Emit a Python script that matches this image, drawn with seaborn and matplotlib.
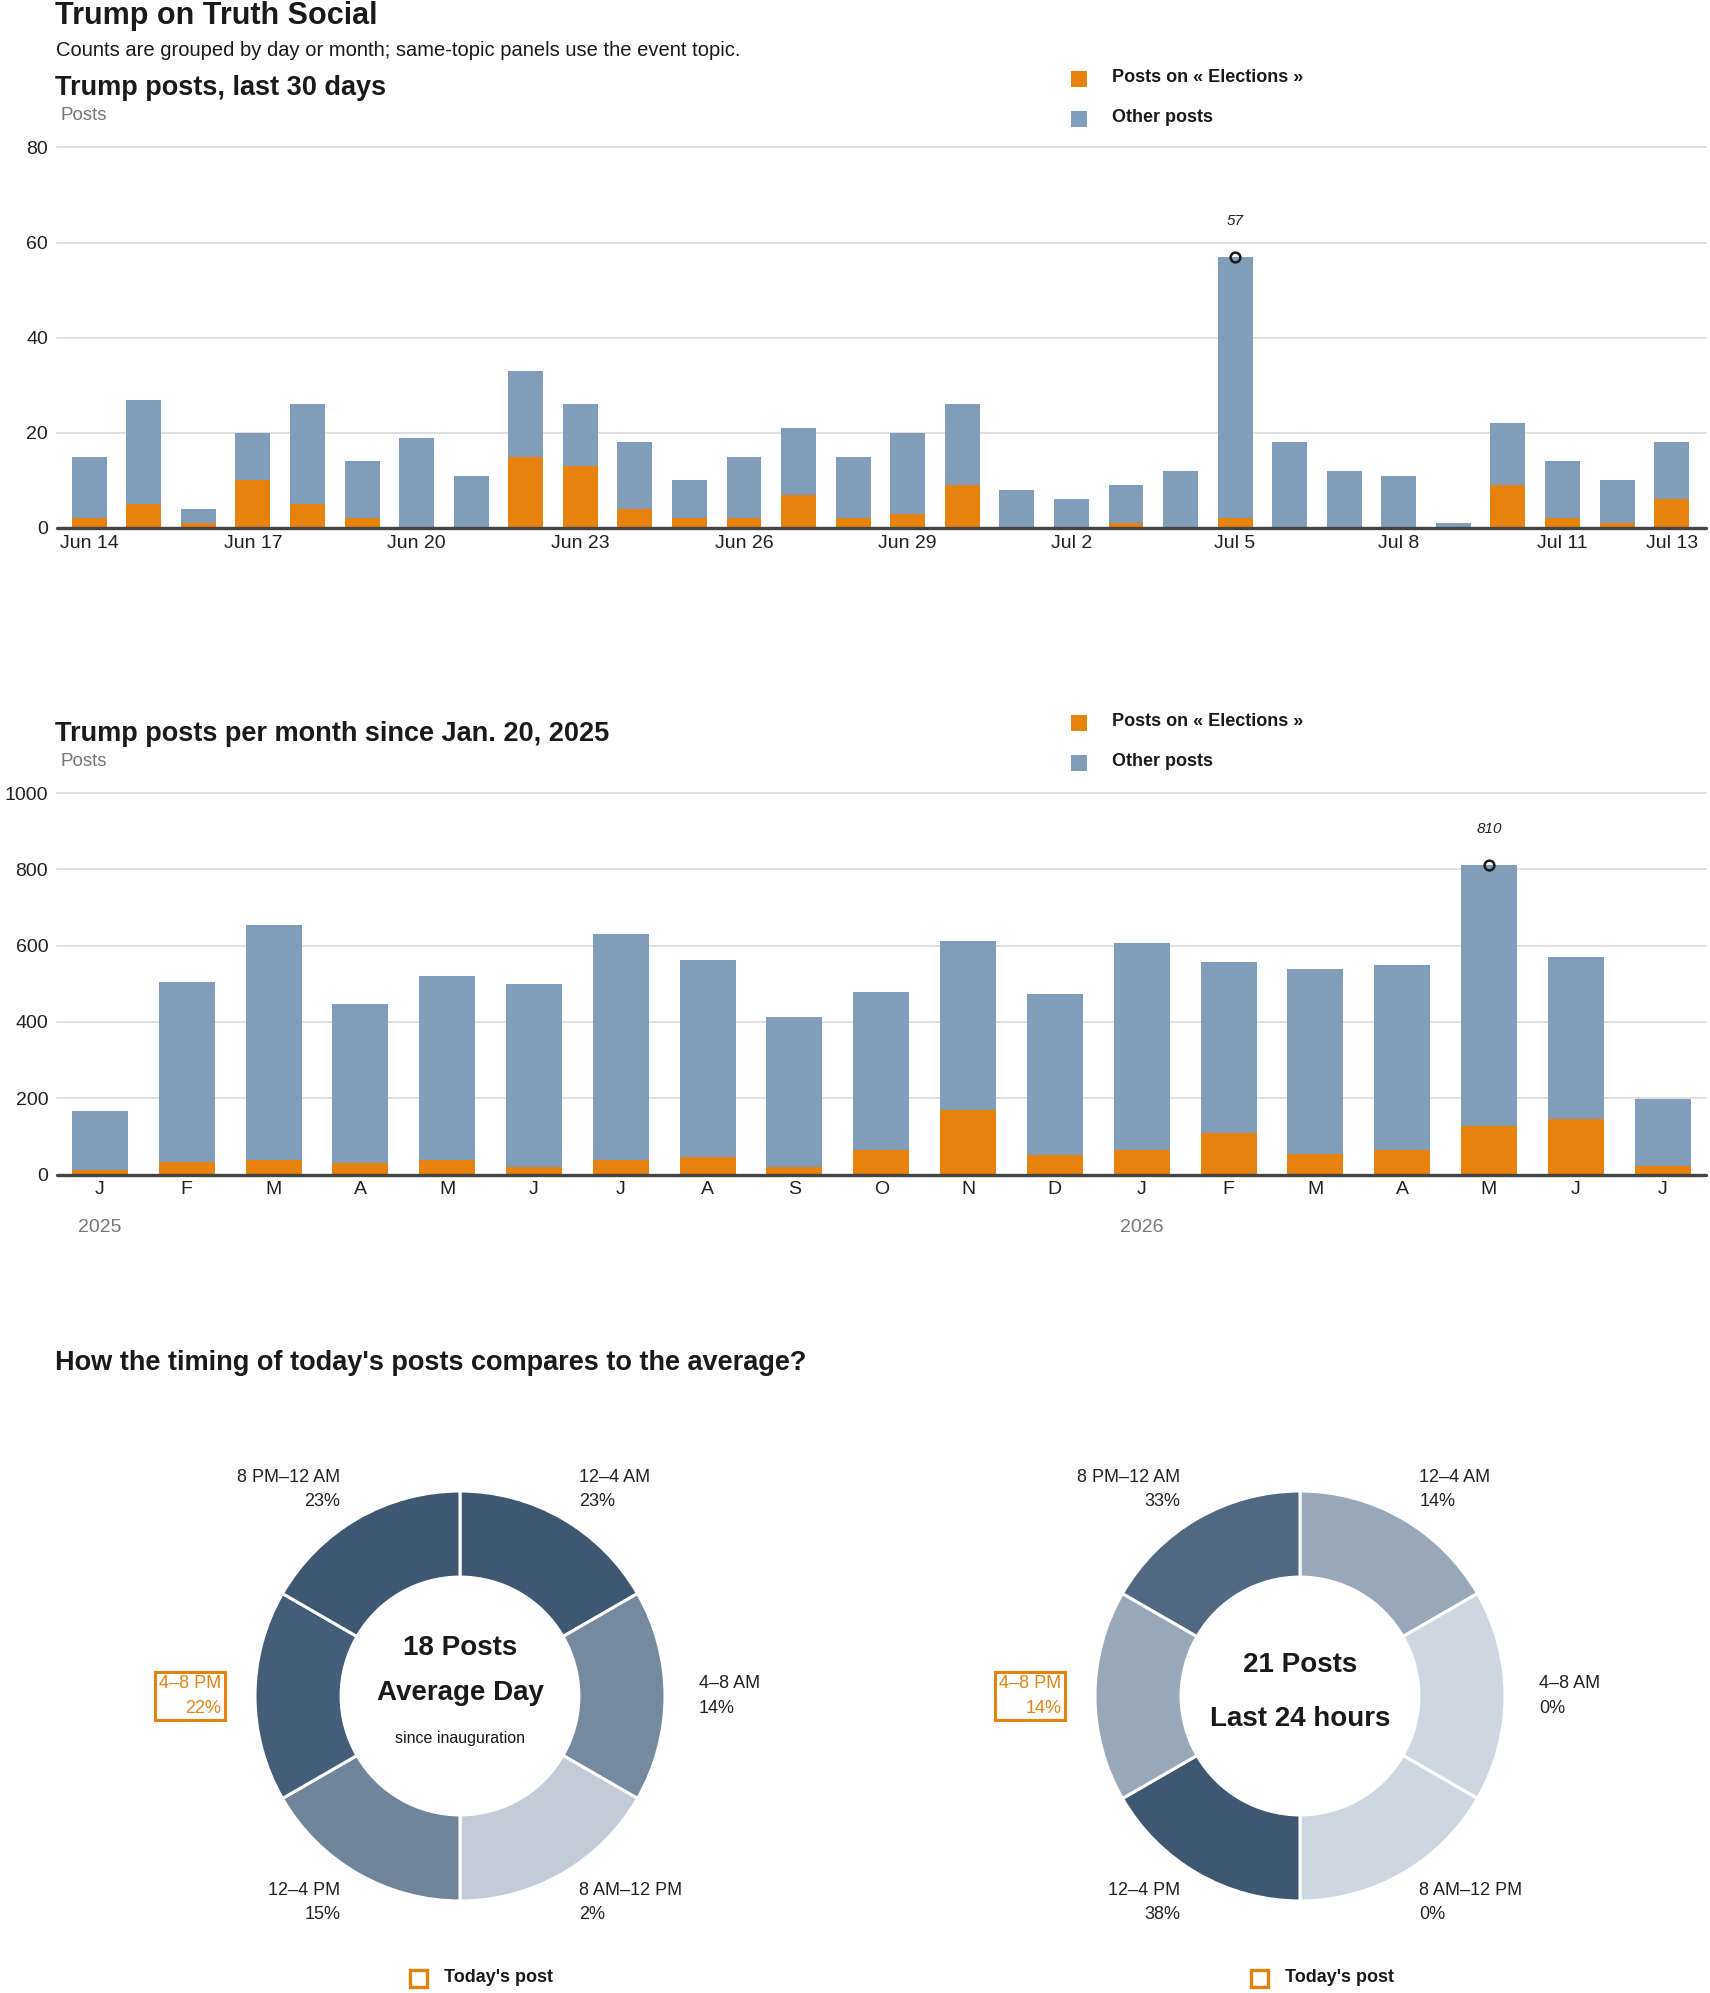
import numpy as np
import pandas as pd
import matplotlib
matplotlib.use("Agg")
import matplotlib.pyplot as plt
from matplotlib.patches import Rectangle
from matplotlib.colors import LinearSegmentedColormap
import seaborn as sns

# ---------------------------------------------------------------
# Data
# ---------------------------------------------------------------
day_labels = [
    "Jun 14", "Jun 15", "Jun 16", "Jun 17", "Jun 18", "Jun 19", "Jun 20", "Jun 21",
    "Jun 22", "Jun 23", "Jun 24", "Jun 25", "Jun 26", "Jun 27", "Jun 28", "Jun 29",
    "Jun 30", "Jul 1", "Jul 2", "Jul 3", "Jul 4", "Jul 5", "Jul 6", "Jul 7",
    "Jul 8", "Jul 9", "Jul 10", "Jul 11", "Jul 12", "Jul 13",
]
day_total = [15, 27, 4, 20, 26, 14, 19, 11, 33, 26, 18, 10, 15, 21, 15,
             20, 26, 8, 6, 9, 12, 57, 18, 12, 11, 1, 22, 14, 10, 18]
day_elections = [2, 5, 1, 10, 5, 2, 0, 0, 15, 13, 4, 2, 2, 7, 2,
                 3, 9, 0, 0, 1, 0, 2, 0, 0, 0, 0, 9, 2, 1, 6]
day_ticks = ["Jun 14", "Jun 17", "Jun 20", "Jun 23", "Jun 26", "Jun 29",
             "Jul 2", "Jul 5", "Jul 8", "Jul 11", "Jul 13"]

month_keys = ["2025-01", "2025-02", "2025-03", "2025-04", "2025-05", "2025-06",
              "2025-07", "2025-08", "2025-09", "2025-10", "2025-11", "2025-12",
              "2026-01", "2026-02", "2026-03", "2026-04", "2026-05", "2026-06",
              "2026-07"]
month_initials = ["J", "F", "M", "A", "M", "J", "J", "A", "S", "O", "N", "D",
                  "J", "F", "M", "A", "M", "J", "J"]
month_total = [166, 504, 655, 447, 521, 499, 631, 562, 413, 478, 612, 473,
               607, 557, 539, 550, 810, 571, 197]
month_elections = [11, 34, 38, 31, 38, 20, 38, 45, 20, 63, 168, 51,
                   63, 108, 54, 63, 127, 145, 22]
year_labels = {"2025-01": "2025", "2026-01": "2026"}

slots = ["12–4 AM", "4–8 AM", "8 AM–12 PM", "12–4 PM", "4–8 PM", "8 PM–12 AM"]
avg_share = [23, 14, 2, 15, 22, 23]
last24_share = [14, 0, 0, 38, 14, 33]
today_slot = "4–8 PM"

# ---------------------------------------------------------------
# Styling
# ---------------------------------------------------------------
sns.set_style("white")
plt.rcParams['font.family'] = ['Liberation Sans', 'DejaVu Sans']

ORANGE = "#E8820E"
BLUE = "#809DB9"
INK = "#1a1a1a"
GRID = "#dddddd"
GRAY = "#777777"
ring_cmap = LinearSegmentedColormap.from_list("ring", ["#cdd7e1", "#3e5874"])

W, H = 1710, 1993
fig = plt.figure(figsize=(W / 100, H / 100), dpi=100)


def fx(x):
    return x / W


def fy(y):
    return 1 - y / H


def px_rect(left, top, right, bottom):
    return [left / W, 1 - bottom / H, (right - left) / W, (bottom - top) / H]


def legend_square(x, y, color, hollow=False, size=16):
    if hollow:
        r = Rectangle((fx(x), fy(y + size / 2)), size / W, size / H,
                      transform=fig.transFigure, fc="none", ec=color, lw=2.4)
    else:
        r = Rectangle((fx(x), fy(y + size / 2)), size / W, size / H,
                      transform=fig.transFigure, fc=color, ec="none")
    fig.add_artist(r)


def stacked_bars(ax, cats, totals, elections, width):
    sns.barplot(x=cats, y=totals, color=BLUE, width=width, saturation=1,
                errorbar=None, linewidth=0, ax=ax, zorder=2)
    sns.barplot(x=cats, y=elections, color=ORANGE, width=width, saturation=1,
                errorbar=None, linewidth=0, ax=ax, zorder=3)
    ax.set_xlabel("")
    ax.set_ylabel("")
    sns.despine(ax=ax, left=True, bottom=True)
    ax.grid(True, axis="y", color=GRID, linewidth=1.3)
    ax.grid(False, axis="x")
    ax.set_axisbelow(True)
    ax.axhline(0, color="#444444", linewidth=2.4, zorder=5, clip_on=False)
    ax.tick_params(axis="both", length=0, labelsize=14, labelcolor="#222222")
    ax.tick_params(axis="y", pad=6)
    ax.tick_params(axis="x", pad=5)
    # mark the peak
    k = int(np.argmax(totals))
    ax.plot(k, totals[k], "o", ms=7, mfc="none", mec=INK, mew=1.8, zorder=6, clip_on=False)
    ax.annotate(f"{totals[k]}", (k, totals[k]), xytext=(0, 26), textcoords="offset points",
                ha="center", va="center", fontsize=11, style="italic", color="#222222")


def finish_grid(ax):
    for gl in ax.get_ygridlines():
        gl.set_clip_on(False)


# ---------------------------------------------------------------
# Header
# ---------------------------------------------------------------
fig.text(fx(55), fy(16), "Trump on Truth Social", fontsize=22, weight="bold",
         color=INK, va="center")
fig.text(fx(56), fy(51), "Counts are grouped by day or month; same-topic panels use the event topic.",
         fontsize=14.5, color=INK, va="center")

# ---------------------------------------------------------------
# Panel 1: last 30 days
# ---------------------------------------------------------------
fig.text(fx(55), fy(88), "Trump posts, last 30 days", fontsize=19.5, weight="bold",
         color=INK, va="center")
fig.text(fx(60), fy(116), "Posts", fontsize=13.5, color=GRAY, va="center")
legend_square(1071, 79, ORANGE)
legend_square(1071, 119, BLUE)
fig.text(fx(1112), fy(77), "Posts on « Elections »", fontsize=13, weight="bold", color=INK, va="center")
fig.text(fx(1112), fy(117), "Other posts", fontsize=13, weight="bold", color=INK, va="center")

ax1 = fig.add_axes(px_rect(56.5, 147.5, 1706, 528))
stacked_bars(ax1, day_labels, day_total, day_elections, 0.64)
ax1.set_ylim(0, 80)
ax1.set_yticks([0, 20, 40, 60, 80])
ax1.set_xlim(-0.6, 29.63)
ax1.set_xticks([day_labels.index(t) for t in day_ticks])
ax1.set_xticklabels(day_ticks)
finish_grid(ax1)

# ---------------------------------------------------------------
# Panel 2: per month
# ---------------------------------------------------------------
fig.text(fx(55), fy(734), "Trump posts per month since Jan. 20, 2025", fontsize=19.5,
         weight="bold", color=INK, va="center")
fig.text(fx(60), fy(762), "Posts", fontsize=13.5, color=GRAY, va="center")
legend_square(1071, 723, ORANGE)
legend_square(1071, 763, BLUE)
fig.text(fx(1112), fy(721), "Posts on « Elections »", fontsize=13, weight="bold", color=INK, va="center")
fig.text(fx(1112), fy(761), "Other posts", fontsize=13, weight="bold", color=INK, va="center")

ax2 = fig.add_axes(px_rect(56.5, 793, 1706, 1174.5))
stacked_bars(ax2, month_keys, month_total, month_elections, 0.645)
ax2.set_ylim(0, 1000)
ax2.set_yticks([0, 200, 400, 600, 800, 1000])
ax2.set_xlim(-0.5, 18.5)
ax2.set_xticks(range(len(month_keys)))
ax2.set_xticklabels(month_initials)
finish_grid(ax2)
for key, yr in year_labels.items():
    ax2.text(month_keys.index(key), -(1227 - 1174.5) / (1174.5 - 793), yr,
             transform=ax2.get_xaxis_transform(), ha="center", va="center",
             fontsize=14, color=GRAY)

# ---------------------------------------------------------------
# Donuts
# ---------------------------------------------------------------
fig.text(fx(55), fy(1363), "How the timing of today's posts compares to the average?",
         fontsize=19.5, weight="bold", color=INK, va="center")

R_PX = 205
HALF = 280


def donut(cx, cy, shares, center_lines):
    ax = fig.add_axes(px_rect(cx - HALF, cy - HALF, cx + HALF, cy + HALF))
    top = max(shares)
    colors = [ring_cmap(v / top) for v in shares]
    ax.pie([1] * len(shares), colors=colors, startangle=90, counterclock=False,
           radius=1, wedgeprops=dict(width=0.42, edgecolor="white", linewidth=2.2))
    lim = HALF / R_PX
    ax.set_xlim(-lim, lim)
    ax.set_ylim(-lim, lim)
    ax.set_aspect("equal")
    ax.axis("off")
    for k, (slot, v) in enumerate(zip(slots, shares)):
        ang = np.deg2rad(90 - 60 * k - 30)
        x, y = 1.165 * np.cos(ang), 1.165 * np.sin(ang)
        ha = "left" if x > 0 else "right"
        kw = dict(ha=ha, va="center", multialignment=ha, fontsize=13, linespacing=1.55,
                  color="#222222")
        if slot == today_slot:
            kw["color"] = ORANGE
            kw["bbox"] = dict(boxstyle="square,pad=0.2", fc="none", ec=ORANGE, lw=2.2)
        ax.text(x, y, f"{slot}\n{v}%", **kw)
    for text, yoff, size, wt in center_lines:
        ax.text(0, yoff, text, ha="center", va="center", fontsize=size, weight=wt, color=INK)
    return ax


donut(460, 1696, avg_share, [("18 Posts", 0.235, 20, "bold"),
                             ("Average Day", 0.015, 20, "bold"),
                             ("since inauguration", -0.205, 11.5, "normal")])
donut(1300, 1696, last24_share, [("21 Posts", 0.15, 20, "bold"),
                                 ("Last 24 hours", -0.11, 20, "bold")])

for lx in (410, 1251):
    legend_square(lx, 1978, ORANGE, hollow=True, size=17)
    fig.text(fx(lx + 34), fy(1977), "Today's post", fontsize=13, weight="bold",
             color=INK, va="center")

plt.savefig("out.png", dpi=100)
plt.close(fig)
